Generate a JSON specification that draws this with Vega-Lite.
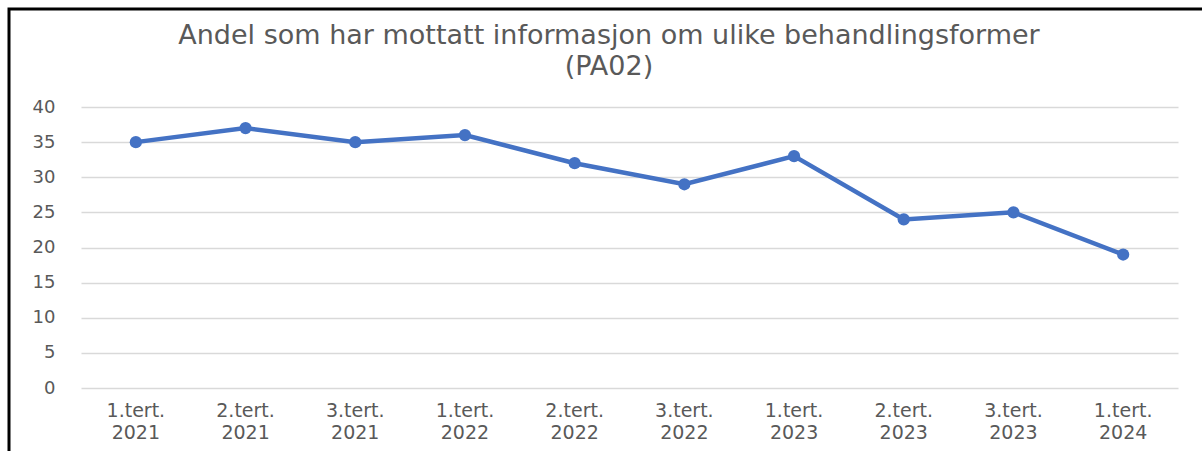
{
  "$schema": "https://vega.github.io/schema/vega-lite/v6.json",
  "autosize": {"type": "none"},
  "padding": {"left": 9, "top": 9, "right": 0, "bottom": 0},
  "width": 1200,
  "height": 450,
  "background": "white",
  "config": {
    "view": {"stroke": "#000000", "strokeWidth": 3, "fill": "white"},
    "font": "DejaVu Sans"
  },
  "title": {
    "text": ["Andel som har mottatt informasjon om ulike behandlingsformer", "(PA02)"],
    "fontSize": 27,
    "fontWeight": "normal",
    "color": "#595959",
    "font": "DejaVu Sans",
    "lineHeight": 31,
    "baseline": "alphabetic",
    "anchor": "middle",
    "offset": -93
  },
  "data": {
    "values": [
      {"periode": "1.tert. 2021", "andel": 35},
      {"periode": "2.tert. 2021", "andel": 37},
      {"periode": "3.tert. 2021", "andel": 35},
      {"periode": "1.tert. 2022", "andel": 36},
      {"periode": "2.tert. 2022", "andel": 32},
      {"periode": "3.tert. 2022", "andel": 29},
      {"periode": "1.tert. 2023", "andel": 33},
      {"periode": "2.tert. 2023", "andel": 24},
      {"periode": "3.tert. 2023", "andel": 25},
      {"periode": "1.tert. 2024", "andel": 19}
    ]
  },
  "encoding": {
    "x": {
      "field": "periode",
      "type": "ordinal",
      "sort": null,
      "scale": {"type": "band", "range": [72, 1169], "paddingInner": 0, "paddingOuter": 0},
      "axis": {
        "title": null,
        "labelAngle": 0,
        "domain": false,
        "ticks": false,
        "grid": false,
        "offset": -71,
        "labelPadding": 13,
        "labelExpr": "split(datum.label, ' ')",
        "labelFontSize": 19,
        "labelColor": "#595959",
        "labelLineHeight": 22,
        "labelBaseline": "top"
      }
    },
    "y": {
      "field": "andel",
      "type": "quantitative",
      "scale": {"domain": [0, 40], "range": [379, 98], "nice": false, "zero": true},
      "axis": {
        "title": null,
        "values": [0, 5, 10, 15, 20, 25, 30, 35, 40],
        "domain": false,
        "ticks": false,
        "grid": true,
        "gridColor": "#d9d9d9",
        "gridWidth": 1.5,
        "offset": -46,
        "labelPadding": 0,
        "labelFontSize": 18,
        "labelColor": "#595959"
      }
    }
  },
  "layer": [
    {"mark": {"type": "line", "color": "#4472C4", "strokeWidth": 4.5}},
    {"mark": {"type": "point", "filled": true, "color": "#4472C4", "size": 150, "opacity": 1}}
  ]
}
